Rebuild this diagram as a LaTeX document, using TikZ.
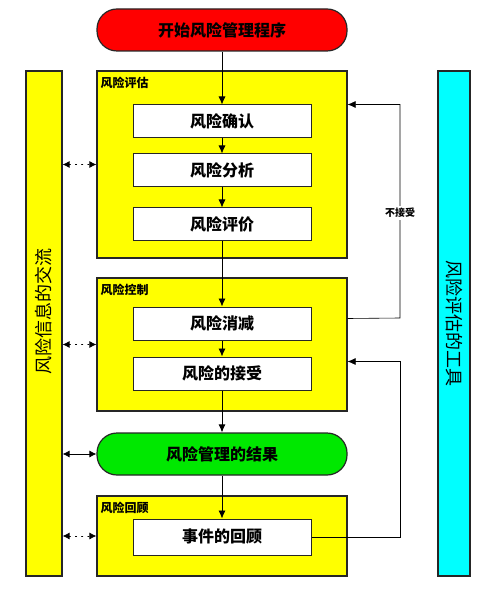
\documentclass[tikz,border=0pt]{standalone}
\usepackage{fontspec}
\setmainfont{Noto Sans CJK SC}
\usetikzlibrary{calc,arrows.meta}
\definecolor{pillgreen}{RGB}{0,232,0}
\definecolor{stageyellow}{RGB}{255,255,0}
\definecolor{toolcyan}{RGB}{0,255,255}
\definecolor{startred}{RGB}{255,0,0}

\begin{document}
\begin{tikzpicture}[x=1pt,y=-1pt,
  every node/.style={inner sep=0pt},
  stage/.style={draw=black!85,fill=stageyellow,line width=1.2pt},
  task/.style={draw=black!85,fill=white,line width=1pt,minimum width=178pt,minimum height=33pt,font=\bfseries\fontsize{16}{16}\selectfont},
  pill/.style={draw=black!85,line width=1.2pt,rounded corners=20pt,minimum width=250pt,minimum height=42pt,font=\bfseries\fontsize{16}{16}\selectfont},
  tag/.style={anchor=north west,font=\bfseries\fontsize{12}{12}\selectfont},
  side/.style={draw=black!85,line width=1.2pt,minimum width=36pt,minimum height=505pt},
  sidetext/.style={font=\fontsize{18}{18}\selectfont},
  flow/.style={-{Latex[length=8pt,width=7pt]},line width=0.8pt},
  talk/.style={{Latex[length=7pt,width=7pt]}-{Latex[length=7pt,width=7pt]},line width=0.8pt}]
\useasboundingbox (0,0) rectangle (498,593);
% side columns
\node[side,fill=stageyellow] (info) at (44,323.5) {};
\node[sidetext,rotate=90] (infotext) at ($(info)+(0,-12)$) {风险信息的交流};
\node[side,fill=toolcyan,minimum width=32pt] (tools) at (454,323.5) {};
\node[sidetext,rotate=-90] (toolstext) at ($(tools)+(0,0)$) {风险评估的工具};
% stages
\node[pill,fill=startred] (start) at (222,30) {开始风险管理程序};
\node[stage,minimum width=250pt,minimum height=187pt] (assess) at (222,164.5) {};
\node[tag] (assesstag) at ($(assess.north west)+(4,6)$) {风险评估};
\node[task] (ident) at (222,121.5) {风险确认};
\node[task] (analyse) at (222,170.5) {风险分析};
\node[task] (evaluate) at (222,224.5) {风险评价};
\node[stage,minimum width=250pt,minimum height=133pt] (control) at (222,344.5) {};
\node[tag] (controltag) at ($(control.north west)+(4,6)$) {风险控制};
\node[task] (mitig) at (222,323.5) {风险消减};
\node[task] (accept) at (222,373.5) {风险的接受};
\node[pill,fill=pillgreen] (result) at (222,454) {风险管理的结果};
\node[stage,minimum width=250pt,minimum height=80pt] (review) at (222,536) {};
\node[tag] (reviewtag) at ($(review.north west)+(4,6)$) {风险回顾};
\node[task,minimum height=36pt] (event) at (222,537) {事件的回顾};
% main flow
\draw[flow] (start) -- (ident);
\draw[flow] (ident) -- (analyse);
\draw[flow] (analyse) -- (evaluate);
\draw[flow] (evaluate) -- (mitig);
\draw[flow] (mitig) -- (accept);
\draw[flow] (accept) -- (result);
\draw[flow] (result) -- (event);
% feedback loops
\draw[flow,line width=0.6pt] ($(control.east |- mitig)+(0,-5)$) -- (400,318) |- (ident.north -| assess.east);
\node[fill=white,inner sep=2pt,font=\bfseries\fontsize{10}{10}\selectfont] (reject) at (400,213) {不接受};
\draw[flow,line width=0.6pt] (event) -- (400,537) |- ($(accept.north -| control.east)+(0,5)$);
% communication
\foreach \stg in {assess,control,review}
  \draw[talk,dash pattern=on 1.2pt off 5pt,line cap=round] (info.east |- \stg) -- (\stg.west);
\draw[talk] (info.east |- result) -- (result.west);
\end{tikzpicture}
\end{document}
